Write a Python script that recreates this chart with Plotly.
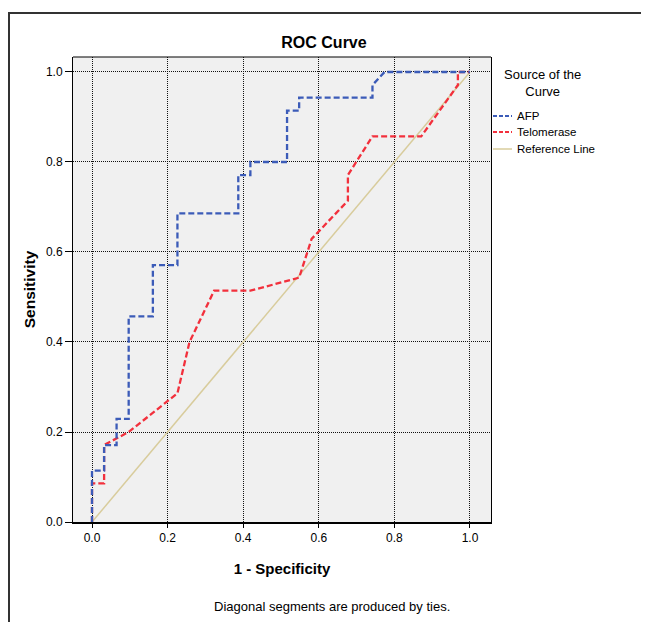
import plotly.graph_objects as go

# ROC data
afp_fpr = [0.0, 0.0, 0.032, 0.032, 0.065, 0.065, 0.097, 0.097, 0.161, 0.161, 0.226, 0.226,
           0.387, 0.387, 0.419, 0.419, 0.516, 0.516, 0.548, 0.548, 0.742, 0.742, 0.774, 1.0]
afp_tpr = [0.0, 0.114, 0.114, 0.171, 0.171, 0.229, 0.229, 0.457, 0.457, 0.571, 0.571, 0.686,
           0.686, 0.771, 0.771, 0.800, 0.800, 0.914, 0.914, 0.943, 0.943, 0.971, 1.0, 1.0]

tel_fpr = [0.0, 0.0, 0.032, 0.032, 0.097, 0.226, 0.258, 0.323, 0.419, 0.548, 0.581, 0.677,
           0.677, 0.742, 0.871, 0.968, 0.968, 1.0]
tel_tpr = [0.0, 0.086, 0.086, 0.171, 0.200, 0.286, 0.400, 0.514, 0.514, 0.543, 0.629, 0.714,
           0.771, 0.857, 0.857, 0.971, 1.0, 1.0]

ref_x = [0.0, 1.0]
ref_y = [0.0, 1.0]

tick_vals = [0.0, 0.2, 0.4, 0.6, 0.8, 1.0]
tick_text = ["0.0", "0.2", "0.4", "0.6", "0.8", "1.0"]

series_names = ["AFP", "Telomerase", "Reference Line"]
series_colors = ["#3b5bb8", "#f2303c", "#d8cc9c"]

FONT = "Arial, Liberation Sans, sans-serif"
OFF = 8  # page body margin
W, H = 649 - OFF, 622 - OFF
R, B = 158, 100
L, T = 73 - OFF, 57 - OFF
PW, PH = W - L - R, H - T - B


def px_x(p):
    return (p - OFF - L) / PW


def px_y(p):
    return (H - B - (p - OFF)) / PH


fig = go.Figure()
fig.add_trace(go.Scatter(x=ref_x, y=ref_y, mode="lines", name=series_names[2],
                         line=dict(color=series_colors[2], width=1.5), showlegend=False))
fig.add_trace(go.Scatter(x=tel_fpr, y=tel_tpr, mode="lines", name=series_names[1],
                         line=dict(color=series_colors[1], width=2.3, dash="6px,3px"), showlegend=False))
fig.add_trace(go.Scatter(x=afp_fpr, y=afp_tpr, mode="lines", name=series_names[0],
                         line=dict(color=series_colors[0], width=2.3, dash="6px,3px"), showlegend=False))

shapes = []
annotations = []

# top frame line
shapes.append(dict(type="line", xref="paper", yref="paper", x0=0, x1=1, y0=1, y1=1,
                   line=dict(color="black", width=1)))
# outer chart border
shapes.append(dict(type="rect", xref="paper", yref="paper",
                   x0=px_x(9), x1=px_x(720), y0=px_y(720), y1=px_y(13),
                   line=dict(color="#333333", width=2), layer="below"))

# legend (manual)
annotations.append(dict(text="Source of the<br>Curve", xref="paper", yref="paper",
                        x=px_x(542), y=px_y(83), xanchor="center", yanchor="middle",
                        showarrow=False, align="center",
                        font=dict(family=FONT, size=13, color="black")))
leg_y = [116, 132, 149]
leg_dash = ["4px,2px", "4px,2px", "solid"]
leg_w = [2.2, 2.2, 1.5]
for name, col, yy, d, w in zip(series_names, series_colors, leg_y, leg_dash, leg_w):
    shapes.append(dict(type="line", xref="paper", yref="paper",
                       x0=px_x(493), x1=px_x(512), y0=px_y(yy), y1=px_y(yy),
                       line=dict(color=col, width=w, dash=d)))
    annotations.append(dict(text=name, xref="paper", yref="paper",
                            x=px_x(515), y=px_y(yy), xanchor="left", yanchor="middle",
                            showarrow=False, font=dict(family=FONT, size=11.5, color="black")))

# footnote
annotations.append(dict(text="Diagonal segments are produced by ties.", xref="paper", yref="paper",
                        x=px_x(332), y=px_y(606), xanchor="center", yanchor="middle",
                        showarrow=False, font=dict(family=FONT, size=13, color="black")))

fig.update_layout(
    width=W, height=H,
    margin=dict(l=L, r=R, t=T, b=B),
    paper_bgcolor="white",
    plot_bgcolor="#f0f0f0",
    font=dict(family=FONT, color="black"),
    title=dict(text="<b>ROC Curve</b>", x=(324 - OFF) / W, xref="container", xanchor="center",
               y=1 - (42 - OFF) / H, yref="container", yanchor="middle",
               font=dict(family=FONT, size=16, color="black")),
    shapes=shapes,
    annotations=annotations,
    showlegend=False,
)

fig.update_xaxes(
    range=[-0.0503, 1.0556], tickvals=tick_vals, ticktext=tick_text,
    showgrid=True, gridcolor="#111111", gridwidth=1, griddash="1px,1px",
    zeroline=False, showline=True, linecolor="black", linewidth=2, mirror=False,
    ticks="outside", ticklen=4, tickcolor="black", tickwidth=1,
    tickfont=dict(family=FONT, size=12, color="black"),
    title=dict(text="<b>1 - Specificity</b>", font=dict(family=FONT, size=15, color="black"), standoff=19),
)
fig.update_yaxes(
    range=[0, 1.0333], tickvals=tick_vals, ticktext=tick_text,
    showgrid=True, gridcolor="#111111", gridwidth=1, griddash="1px,1px",
    zeroline=False, showline=True, linecolor="black", linewidth=1, mirror=True,
    ticks="outside", ticklen=7, tickcolor="black", tickwidth=1,
    tickfont=dict(family=FONT, size=12, color="black"),
    title=dict(text="<b>Sensitivity</b>", font=dict(family=FONT, size=15.5, color="black"), standoff=6),
)

fig.write_html("out.html")
